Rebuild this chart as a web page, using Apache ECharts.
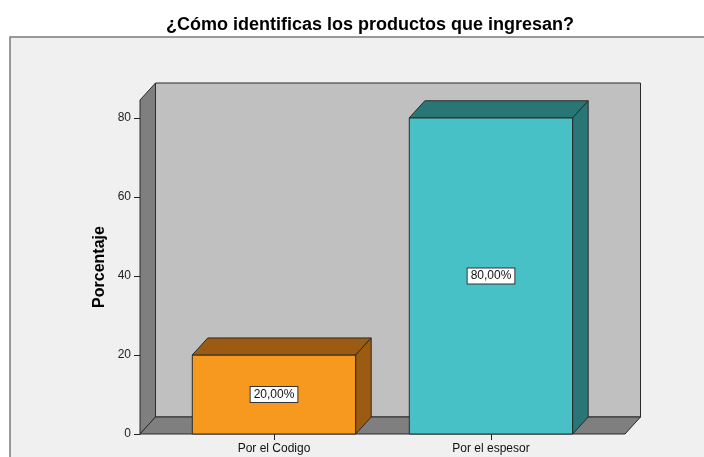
<!DOCTYPE html>
<html>
<head>
<meta charset="utf-8">
<script src="https://cdn.jsdelivr.net/npm/echarts@6/dist/echarts.min.js"></script>
<style>
  html, body { margin: 0; padding: 0; background: #ffffff; }
  #chart { width: 704px; height: 457px; }
</style>
</head>
<body>
<div id="chart"></div>
<script>
// Answers and their share of respondents (%)
const categories = ['Por el Codigo', 'Por el espesor'];
const percentages = [20, 80];
const yTicks = [0, 20, 40, 60, 80];

const FONT = '"Liberation Sans", Arial, sans-serif';
// depth of the 3D extrusion, in pixels
const DX = 15.5;
const DY = 17;
const BAR_RATIO = 0.753;
const EDGE = '#2b2b2b';
const palette = [
  { front: '#f7991e', dark: '#9c5b12' },
  { front: '#47c1c5', dark: '#2a7576' }
];

function formatPct(v) {
  return v.toFixed(2).replace('.', ',') + '%';
}

// Back wall, left wall and floor of the 3D box
function renderWalls(params, api) {
  const cs = params.coordSys;
  const L = cs.x, R = cs.x + cs.width, T = cs.y, B = cs.y + cs.height;
  const st = (fill) => ({ fill: fill, stroke: EDGE, lineWidth: 1 });
  return {
    type: 'group',
    children: [
      { type: 'rect', shape: { x: L + DX, y: T - DY, width: R - L, height: B - T }, style: st('#c0c0c0') },
      { type: 'polygon', shape: { points: [[L, B], [L + DX, B - DY], [L + DX, T - DY], [L, T]] }, style: st('#7f7f7f') },
      { type: 'polygon', shape: { points: [[L, B], [R, B], [R + DX, B - DY], [L + DX, B - DY]] }, style: st('#7f7f7f') }
    ]
  };
}

// A box-shaped bar with its value label on the front face
function renderBar(params, api) {
  const i = api.value(0);
  const v = api.value(1);
  const base = api.coord([i, 0]);
  const top = api.coord([i, v]);
  const band = api.size([1, 0])[0];
  const w = band * BAR_RATIO;
  const x0 = base[0] - w / 2, x1 = base[0] + w / 2;
  const y0 = base[1], y1 = top[1];
  const c = palette[i % palette.length];
  return {
    type: 'group',
    children: [
      { type: 'rect', shape: { x: x0, y: y1, width: w, height: y0 - y1 },
        style: { fill: c.front, stroke: EDGE, lineWidth: 1 } },
      { type: 'polygon', shape: { points: [[x0, y1], [x0 + DX, y1 - DY], [x1 + DX, y1 - DY], [x1, y1]] },
        style: { fill: c.dark, stroke: EDGE, lineWidth: 1 } },
      { type: 'polygon', shape: { points: [[x1, y1], [x1 + DX, y1 - DY], [x1 + DX, y0 - DY], [x1, y0]] },
        style: { fill: c.dark, stroke: EDGE, lineWidth: 1 } },
      { type: 'text', z2: 10,
        style: {
          text: formatPct(v), x: base[0], y: (y0 + y1) / 2,
          align: 'center', verticalAlign: 'middle',
          font: '12px ' + FONT, fill: '#111',
          backgroundColor: '#ffffff', borderColor: '#333333', borderWidth: 1,
          padding: [2, 3, 1, 3]
        } }
    ]
  };
}

const chart = echarts.init(document.getElementById('chart'), null, { renderer: 'canvas' });
const yMax = 84.5;

chart.setOption({
  animation: false,
  backgroundColor: '#ffffff',
  title: {
    text: '¿Cómo identificas los productos que ingresan?',
    left: 365, top: 11, textAlign: 'center',
    textStyle: { fontFamily: FONT, fontSize: 18, fontWeight: 'bold', color: '#000' }
  },
  graphic: [{
    type: 'rect', z: -10, silent: true,
    shape: { x: 10, y: 37, width: 720, height: 440 },
    style: { fill: '#f0f0f0', stroke: '#7a7a7a', lineWidth: 1.5 }
  }],
  grid: [
    { left: 140, top: 100, width: 485, height: 334 },
    { left: 165.5, top: 100, width: 434, height: 334 }
  ],
  xAxis: [
    { gridIndex: 0, type: 'value', min: 0, max: 1, show: false },
    { gridIndex: 1, type: 'category', data: categories,
      axisLine: { show: false },
      axisTick: { show: true, alignWithLabel: true, length: 6, lineStyle: { color: '#222' } },
      axisLabel: { fontFamily: FONT, fontSize: 12, color: '#111', margin: 9 } }
  ],
  yAxis: [
    { gridIndex: 0, type: 'value', min: 0, max: yMax, interval: 20,
      name: 'Porcentaje', nameLocation: 'middle', nameGap: 32, nameMoveOverlap: false,
      nameTextStyle: { fontFamily: FONT, fontSize: 16, fontWeight: 'bold', color: '#000' },
      axisLine: { show: true, lineStyle: { color: '#222' } },
      axisTick: { show: true, length: 6, customValues: yTicks, lineStyle: { color: '#222' } },
      axisLabel: { fontFamily: FONT, fontSize: 12, color: '#222', margin: 9, customValues: yTicks },
      splitLine: { show: false } },
    { gridIndex: 1, type: 'value', min: 0, max: yMax, show: false, splitLine: { show: false } }
  ],
  series: [
    { type: 'custom', xAxisIndex: 0, yAxisIndex: 0, z: 1, silent: true,
      renderItem: renderWalls, data: [[0, 0]] },
    { type: 'custom', xAxisIndex: 1, yAxisIndex: 1, z: 3, silent: true,
      renderItem: renderBar,
      data: percentages.map((v, i) => [i, v]) }
  ]
});
</script>
</body>
</html>
